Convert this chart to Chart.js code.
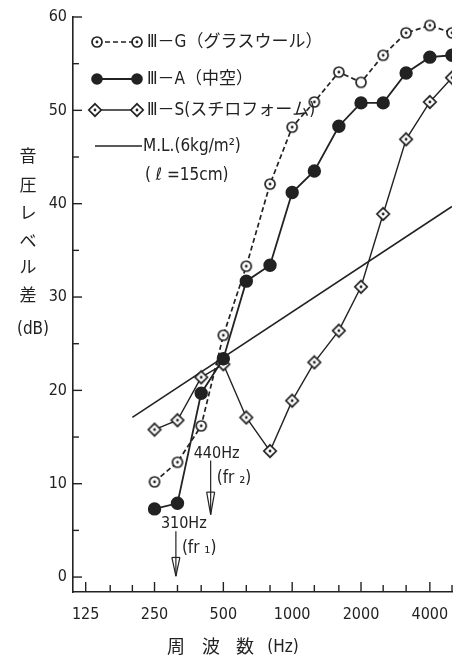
<!DOCTYPE html>
<html>
<head>
<meta charset="utf-8">
<script src="https://cdn.jsdelivr.net/npm/chart.js@4.4.0/dist/chart.umd.min.js"></script>
<style>
  html, body { margin: 0; padding: 0; background: #fff; }
</style>
</head>
<body>
<canvas id="myChart" width="462" height="657"></canvas>
<script>
    // 1/3 octave band centre frequencies (Hz)
    var freqs = [250, 315, 400, 500, 630, 800, 1000, 1250, 1600, 2000, 2500, 3150, 4000, 5000];
    // III-G glass wool
    var glassWool = [10.2, 12.3, 16.2, 25.9, 33.3, 42.1, 48.2, 50.9, 54.1, 53.0, 55.9, 58.3, 59.1, 58.3];
    // III-A hollow
    var hollow = [7.3, 7.9, 19.7, 23.4, 31.7, 33.4, 41.2, 43.5, 48.3, 50.8, 50.8, 54.0, 55.7, 55.9];
    // III-S styrofoam
    var styrofoam = [15.8, 16.8, 21.4, 22.8, 17.1, 13.5, 18.9, 23.0, 26.4, 31.1, 38.9, 46.9, 50.9, 53.5];
    // mass law line (6kg/m2, l=15cm)
    var massLawFreqs = [200, 5000];
    var massLawValues = [17.1, 39.7];

    var xTickLabels = [125, 250, 500, 1000, 2000, 4000];
    var xMinorTicks = [160, 200, 315, 400, 630, 800, 1250, 1600, 2500, 3150, 5000];
    var yTickLabels = [0, 10, 20, 30, 40, 50, 60];
    var yMinorTicks = [5, 15, 25, 35, 45, 55];

    var ink = '#222';
    var latin = "'DejaVu Sans Condensed', 'DejaVu Sans', 'Noto Sans CJK JP', sans-serif";
    var jp = "'DejaVu Sans Condensed', 'Noto Sans CJK JP', sans-serif";

    function toPoints(xs, ys) {
      return xs.map(function (f, i) { return { x: f, y: ys[i] }; });
    }

    // small marker pictures: circle with dot, plain circle, diamond with dot
    function makeMarker(kind) {
      var c = document.createElement('canvas');
      c.width = 16; c.height = 16;
      var g = c.getContext('2d');
      g.strokeStyle = ink; g.fillStyle = '#fff'; g.lineWidth = 1.7;
      g.beginPath();
      if (kind === 'dia') {
        g.moveTo(8, 1.8); g.lineTo(14.2, 8); g.lineTo(8, 14.2); g.lineTo(1.8, 8); g.closePath();
      } else {
        g.arc(8, 8, 5, 0, Math.PI * 2);
      }
      g.fill(); g.stroke();
      if (kind !== 'open') {
        g.fillStyle = ink;
        g.beginPath(); g.arc(8, 8, 1.4, 0, Math.PI * 2); g.fill();
      }
      return c;
    }
    var circDot = makeMarker('dot');
    var circOpen = makeMarker('open');
    var diaDot = makeMarker('dia');
    var gStyles = freqs.map(function (f) { return f === 2000 ? circOpen : circDot; });

    var decor = {
      id: 'decor',
      afterDraw: function (chart) {
        var c = chart.ctx, xs = chart.scales.x, ys = chart.scales.y, ca = chart.chartArea;
        c.save();
        c.strokeStyle = ink; c.fillStyle = ink; c.lineWidth = 1.4;
        function seg(x1, y1, x2, y2) { c.beginPath(); c.moveTo(x1, y1); c.lineTo(x2, y2); c.stroke(); }

        // inward tick marks
        xTickLabels.forEach(function (v) { var x = xs.getPixelForValue(v); seg(x, ca.bottom, x, ca.bottom - 10); });
        xMinorTicks.forEach(function (v) { var x = xs.getPixelForValue(v); seg(x, ca.bottom, x, ca.bottom - 7); });
        yTickLabels.forEach(function (v) { var y = ys.getPixelForValue(v); seg(ca.left, y, ca.left + 9, y); });
        yMinorTicks.forEach(function (v) { var y = ys.getPixelForValue(v); seg(ca.left, y, ca.left + 6, y); });

        // legend
        var lx1 = ca.left + 24, lx2 = ca.left + 64, tx = ca.left + 74;
        c.textBaseline = 'middle'; c.textAlign = 'left';
        c.font = '17px ' + jp;
        c.lineWidth = 1.6;
        c.setLineDash([5, 3]); seg(lx1, 42, lx2, 42); c.setLineDash([]);
        c.drawImage(circDot, lx1 - 8, 42 - 8); c.drawImage(circDot, lx2 - 8, 42 - 8);
        c.fillText('Ⅲ－G（グラスウール）', tx, 43);
        c.lineWidth = 1.8; seg(lx1, 79, lx2, 79);
        [lx1, lx2].forEach(function (x) { c.beginPath(); c.arc(x, 79, 5.8, 0, Math.PI * 2); c.fill(); });
        c.fillText('Ⅲ－A（中空）', tx, 80);
        c.lineWidth = 1.4; seg(lx1 - 2, 110, lx2, 110);
        c.drawImage(diaDot, lx1 - 10, 110 - 8); c.drawImage(diaDot, lx2 - 8, 110 - 8);
        c.fillText('Ⅲ－S(スチロフォーム)', tx, 111);
        c.lineWidth = 1.6; seg(lx1 - 2, 146, lx2 + 5, 146);
        c.font = '17px ' + latin;
        c.fillText('M.L.(6kg/m²)', lx2 + 6, 147);
        c.fillText('( ℓ =15cm)', lx2 + 8, 176);

        // y axis title, stacked characters
        c.textAlign = 'center';
        c.font = '17px ' + jp;
        var chars = ['音', '圧', 'レ', 'ベ', 'ル', '差'];
        var cy = [158, 187, 215, 243, 269, 297];
        chars.forEach(function (ch, i) { c.fillText(ch, 28, cy[i]); });
        c.font = '17px ' + latin;
        c.fillText('(dB)', 33, 330);

        // x axis title
        c.font = '18px ' + jp;
        c.fillText('周', 176, 648);
        c.fillText('波', 211, 648);
        c.fillText('数', 245, 648);
        c.font = '17px ' + latin;
        c.fillText('(Hz)', 283, 648);

        // resonance frequency arrows
        function arrow(f, top, bar, tip) {
          var x = xs.getPixelForValue(f);
          var y1 = ys.getPixelForValue(top), yb = ys.getPixelForValue(bar), yt = ys.getPixelForValue(tip);
          c.lineWidth = 1.2;
          seg(x, y1, x, yt);
          seg(x - 4, yb, x + 4, yb);
          seg(x - 4, yb, x, yt);
          seg(x + 4, yb, x, yt);
          return x;
        }
        c.textAlign = 'left';
        c.font = '16px ' + latin;
        var a2 = arrow(440, 12.5, 9.1, 6.7);
        c.fillText('440Hz', a2 - 17, 454);
        var a1 = arrow(310, 4.9, 2.1, 0.1);
        c.fillText('310Hz', a1 - 15, 524);
        c.font = '17px ' + latin;
        c.fillText('(fr ₂)', a2 + 6, 479);
        c.fillText('(fr ₁)', a1 + 6, 549);
        c.restore();
      }
    };

    var ctx = document.getElementById('myChart').getContext('2d');
    var chart = new Chart(ctx, {
        type: 'scatter',
        data: {
            datasets: [
              {
                label: 'Ⅲ－G（グラスウール）',
                data: toPoints(freqs, glassWool),
                showLine: true,
                borderColor: ink,
                borderWidth: 1.7,
                borderDash: [5, 3],
                pointStyle: gStyles
              },
              {
                label: 'Ⅲ－A（中空）',
                data: toPoints(freqs, hollow),
                showLine: true,
                borderColor: ink,
                borderWidth: 1.8,
                pointStyle: 'circle',
                pointRadius: 5.8,
                pointBackgroundColor: ink,
                pointBorderColor: ink
              },
              {
                label: 'Ⅲ－S(スチロフォーム)',
                data: toPoints(freqs, styrofoam),
                showLine: true,
                borderColor: ink,
                borderWidth: 1.4,
                pointStyle: diaDot
              },
              {
                label: 'M.L.(6kg/m²)',
                data: toPoints(massLawFreqs, massLawValues),
                showLine: true,
                borderColor: ink,
                borderWidth: 1.6,
                pointRadius: 0
              }
            ]
        },
        options: {
            responsive: false,
            animation: false,
            events: [],
            layout: { padding: { left: 0, right: 10, top: 17, bottom: 0 } },
            plugins: {
              legend: { display: false },
              tooltip: { enabled: false }
            },
            scales: {
              x: {
                type: 'logarithmic',
                min: 110,
                max: 5000,
                afterBuildTicks: function (s) { s.ticks = xTickLabels.map(function (v) { return { value: v }; }); },
                afterFit: function (s) { s.height = 65; },
                ticks: {
                  callback: function (v) { return String(v); },
                  color: ink,
                  font: { family: latin, size: 16 },
                  padding: 13,
                  maxRotation: 0,
                  autoSkip: false
                },
                grid: { display: true, drawOnChartArea: false, drawTicks: false },
                border: { color: ink, width: 1.6 }
              },
              y: {
                min: -1.6,
                max: 60,
                afterBuildTicks: function (s) { s.ticks = yTickLabels.map(function (v) { return { value: v }; }); },
                afterFit: function (s) { s.width = 73; },
                ticks: {
                  color: ink,
                  font: { family: latin, size: 16 },
                  padding: 6
                },
                grid: { display: true, drawOnChartArea: false, drawTicks: false },
                border: { color: ink, width: 1.6 }
              }
            }
        },
        plugins: [decor]
    });
</script>
</body>
</html>
